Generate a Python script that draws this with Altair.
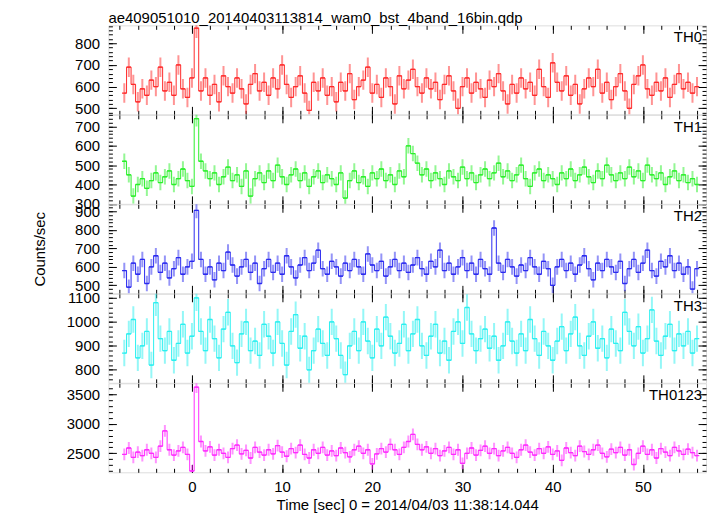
import altair as alt
import pandas as pd

# ---------------- data ----------------
T_START = -7.5      # centre of first 0.5 s bin
BIN = 0.5

th0 = [570, 690, 610, 530, 590, 560, 630, 600, 690, 580, 620, 560, 700, 590, 550, 640,
       870, 580, 640, 560, 610, 530, 650, 600, 570, 640, 590, 520, 610, 660, 580, 620,
       560, 640, 590, 700, 610, 550, 600, 650, 570, 490, 620, 580, 640, 560, 600, 530,
       620, 580, 660, 540, 600, 630, 690, 570, 610, 550, 640, 600, 520, 650, 590, 630,
       680, 600, 570, 640, 590, 620, 540, 610, 650, 580, 500, 600, 640, 570, 620, 590,
       550, 630, 600, 660, 580, 520, 610, 570, 640, 590, 620, 560, 680, 600, 550, 710,
       620, 580, 650, 560, 610, 520, 590, 640, 600, 680, 570, 620, 540, 600, 660, 580,
       500, 610, 650, 700, 590, 560, 620, 580, 640, 550, 610, 660, 590, 620, 570, 600]

th1 = [520, 450, 340, 400, 430, 380, 420, 460, 410, 440, 470, 400, 430, 480, 420, 390,
       740, 520, 470, 430, 460, 400, 440, 490, 420, 450, 390, 470, 340, 430, 460, 410,
       470, 420, 500, 440, 400, 450, 480, 420, 460, 390, 440, 470, 410, 450, 430, 400,
       460, 330, 420, 470, 410, 440, 390, 460, 430, 480, 420, 450, 400, 470, 440, 600,
       560, 510, 450, 480, 420, 460, 430, 400, 470, 440, 420, 490, 430, 460, 410, 450,
       480, 430, 460, 510, 440, 470, 420, 450, 500, 430, 390, 460, 480, 420, 450, 430,
       400, 460, 430, 480, 420, 450, 490, 440, 410, 470, 430, 500, 450, 420, 460, 430,
       490, 440, 470, 420, 500, 450, 430, 460, 400, 440, 470, 420, 450, 410, 430, 400]

th2 = [580, 490, 620, 560, 640, 510, 600, 660, 570, 620, 540, 590, 650, 560, 600, 630,
       905, 640, 560, 600, 530, 620, 580, 680, 610, 550, 600, 640, 570, 620, 510, 590,
       640, 570, 620, 560, 660, 600, 540, 610, 650, 580, 620, 690, 590, 560, 630, 600,
       550, 620, 580, 640, 600, 560, 670, 610, 580, 630, 550, 600, 640, 580, 620, 570,
       610, 650, 590, 560, 630, 600, 690, 580, 620, 560, 600, 650, 580, 620, 560, 640,
       590, 560, 810, 620, 570, 640, 600, 550, 610, 580, 650, 600, 560, 630, 590, 500,
       600, 640, 580, 620, 560, 610, 660, 590, 530, 620, 580, 640, 600, 570, 630, 510,
       590, 640, 570, 620, 690, 580, 550, 630, 600, 660, 580, 620, 560, 600, 480, 590]

th3 = [870, 950, 1010, 850, 900, 960, 820, 1080, 930, 880, 960, 840, 910, 990, 870, 940,
       1100, 960, 880, 1010, 930, 850, 970, 1040, 900, 830, 950, 1000, 880, 920, 860, 990,
       940, 870, 1000, 910, 820, 960, 1030, 890, 940, 800, 880, 970, 910, 860, 1000, 930,
       860, 780, 900, 960, 880, 1000, 920, 850, 970, 900, 1020, 940, 870, 910, 990, 880,
       950, 1010, 900, 860, 940, 990, 870, 920, 840, 960, 1000, 910, 1060, 950, 880, 930,
       970, 890, 940, 840, 900, 1000, 920, 870, 950, 880, 1010, 930, 860, 960, 900, 840,
       920, 980, 880, 950, 1020, 900, 860, 940, 1000, 890, 930, 850, 970, 910, 880, 1040,
       960, 900, 980, 870, 930, 1050, 920, 860, 940, 990, 880, 950, 900, 960, 870, 930]

th0123 = [2480, 2590, 2430, 2520, 2460, 2560, 2500, 2430, 2620, 2880, 2560, 2470, 2540, 2600, 2480, 2200,
          3620, 2700, 2540, 2610, 2470, 2560, 2500, 2430, 2580, 2640, 2490, 2550, 2420, 2600, 2520, 2470,
          2560, 2490, 2630, 2520, 2450, 2580, 2510, 2640, 2480, 2420, 2560, 2500, 2600, 2470, 2540, 2460,
          2590, 2510, 2440, 2560, 2620, 2500, 2560, 2320, 2490, 2580, 2520, 2650, 2560, 2480, 2600, 2700,
          2820, 2650, 2560, 2610, 2500, 2580, 2460, 2540, 2600, 2480, 2560, 2330, 2500, 2590, 2470, 2550,
          2620, 2500, 2580, 2460, 2540, 2600, 2500, 2430, 2560, 2640, 2520, 2470, 2580, 2500, 2610, 2480,
          2540, 2380, 2590, 2510, 2460, 2620, 2530, 2480, 2560, 2640, 2500, 2440, 2570, 2510, 2600, 2470,
          2560, 2310, 2500, 2620, 2480, 2560, 2420, 2580, 2520, 2460, 2600, 2540, 2480, 2570, 2510, 2460]

names = ["TH0", "TH1", "TH2", "TH3", "TH0123"]
series = [th0, th1, th2, th3, th0123]
errors = [45, 40, 42, 55, 100]
y_domains = [[472, 883], [300, 760], [457, 938], [746, 1117], [2178, 3686]]
y_major_step = [100, 100, 100, 100, 500]
y_minor_step = [20, 20, 20, 20, 100]
colors = ["#ff2a2a", "#2af02a", "#2a2af0", "#2af0f0", "#ff2aff"]

x_domain = [-9.26, 57.0]
x_major = [0, 10, 20, 30, 40, 50]
x_minor = list(range(-8, 57, 2))

TITLE = "ae409051010_20140403113814_wam0_bst_4band_16bin.qdp"
X_TITLE = "Time [sec] 0 = 2014/04/03 11:38:14.044"
Y_TITLE = "Counts/sec"

FONT = "Liberation Sans"
W = 601
H = 89.5
MAJ = 8
MIN = 4


def ticks_in(dom, step):
    start = int(-(-dom[0] // step) * step)
    return [v for v in range(start, int(dom[1]) + 1, step)]


def make_panel(k):
    vals = series[k]
    err = errors[k]
    n = len(vals)
    t = [T_START + BIN * i for i in range(n)]
    df = pd.DataFrame({"t": t, "y": vals})
    df["lo"] = df["y"] - err
    df["hi"] = df["y"] + err
    df["t0"] = df["t"] - BIN / 2
    df["t1"] = df["t"] + BIN / 2

    last = k == len(series) - 1
    xs = alt.Scale(domain=x_domain, nice=False, zero=False)
    ys = alt.Scale(domain=y_domains[k], nice=False, zero=False)
    ymaj = ticks_in(y_domains[k], y_major_step[k])
    ymin = ticks_in(y_domains[k], y_minor_step[k])

    def xaxis(orient, values, size, labels=False, title=None):
        kw = dict(orient=orient, values=values, tickSize=size, offset=-size,
                  domain=False, grid=False, labels=labels, ticks=True,
                  tickColor="black", tickWidth=1)
        if labels:
            kw.update(labelFont=FONT, labelFontSize=15, labelColor="black",
                      labelPadding=7, labelFlush=False, format="d")
        if title:
            kw.update(title=title, titleFont=FONT, titleFontSize=15,
                      titleFontWeight="normal", titleColor="black", titlePadding=3)
        else:
            kw.update(title=None)
        return alt.Axis(**kw)

    def yaxis(orient, values, size, labels=False, title=None):
        kw = dict(orient=orient, values=values, tickSize=size, offset=-size,
                  domain=False, grid=False, labels=labels, ticks=True,
                  tickColor="black", tickWidth=1)
        if labels:
            kw.update(labelFont=FONT, labelFontSize=15, labelColor="black",
                      labelPadding=9, labelOverlap=False, labelBound=False, format="d")
        if title:
            kw.update(title=title, titleFont=FONT, titleFontSize=15,
                      titleFontWeight="normal", titleColor="black", titlePadding=27)
        else:
            kw.update(title=None)
        return alt.Axis(**kw)

    base = alt.Chart(df)
    color = colors[k]

    err_bars = base.mark_rule(color=color, strokeWidth=2, opacity=0.5, clip=True).encode(
        x=alt.X("t:Q", scale=xs,
                axis=xaxis("bottom", x_major, MAJ, labels=last, title=X_TITLE if last else None)),
        y=alt.Y("lo:Q", scale=ys,
                axis=yaxis("left", ymaj, MAJ, labels=True, title=Y_TITLE if k == 2 else None)),
        y2="hi:Q",
    )
    steps = base.mark_rule(color=color, strokeWidth=1.3, clip=True).encode(
        x=alt.X("t0:Q", scale=xs, axis=xaxis("bottom", x_minor, MIN)),
        x2="t1:Q",
        y=alt.Y("y:Q", scale=ys, axis=yaxis("left", ymin, MIN)),
    )
    step_line = base.mark_line(color=color, strokeWidth=1, interpolate="step", clip=True).encode(
        x=alt.X("t:Q", scale=xs, axis=xaxis("top", x_major, MAJ)),
        y=alt.Y("y:Q", scale=ys, axis=yaxis("right", ymaj, MAJ)),
    )
    top_minor = base.mark_point(opacity=0).encode(
        x=alt.X("t:Q", scale=xs, axis=xaxis("top", x_minor, MIN)),
        y=alt.Y("y:Q", scale=ys, axis=yaxis("right", ymin, MIN)),
    )
    label = alt.Chart(pd.DataFrame({"name": [names[k]]})).mark_text(
        align="right", baseline="top", font=FONT, fontSize=15, color="black"
    ).encode(x=alt.value(W - 4), y=alt.value(5), text="name:N")

    return alt.layer(err_bars, steps, step_line, top_minor, label).resolve_axis(
        x="independent", y="independent"
    ).properties(width=W, height=H)


panels = [make_panel(k) for k in range(len(series))]

chart = alt.vconcat(*panels, spacing=0, bounds="flush").properties(
    title=alt.TitleParams(TITLE, anchor="start", frame="group", font=FONT, fontSize=15,
                          fontWeight="normal", color="black", offset=-2),
    padding={"left": 24, "top": 2, "right": 2, "bottom": 0},
).configure_view(stroke="black", strokeWidth=1.5).configure(background="white")

chart.save("out.html", embed_options={"renderer": "svg", "actions": False})
